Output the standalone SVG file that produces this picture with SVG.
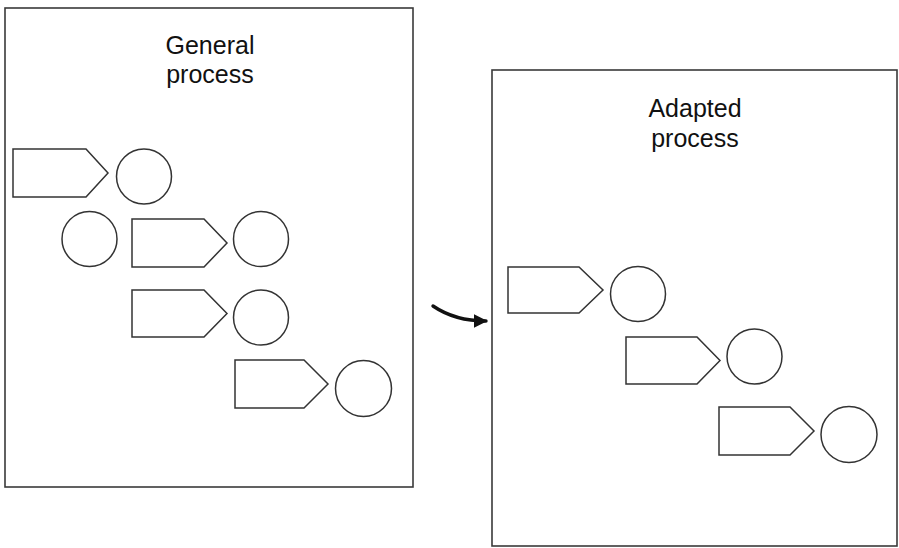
<svg xmlns="http://www.w3.org/2000/svg" width="899" height="548" viewBox="0 0 899 548">
  <style>
    .frame { fill: #fff; stroke: #3a3a3a; stroke-width: 1.6; }
    .step { fill: #fff; stroke: #333; stroke-width: 1.5; stroke-linejoin: miter; }
    .event { fill: #fff; stroke: #333; stroke-width: 1.5; }
    .title { font-family: "Liberation Sans", Arial, sans-serif; font-size: 25px; fill: #111; text-anchor: middle; }
    .conn { fill: none; stroke: #111; stroke-width: 3.4; stroke-linecap: round; }
  </style>
  <defs>
    <marker id="head" viewBox="0 0 10 10" refX="9" refY="5" markerWidth="4" markerHeight="4" orient="auto" markerUnits="strokeWidth">
      <path d="M0,0 L10,5 L0,10 z" fill="#111"/>
    </marker>
  </defs>
  <rect width="899" height="548" fill="#fff"/>

  <!-- General process -->
  <g id="general-process">
    <rect class="frame" x="5" y="8" width="408" height="479"/>
    <text class="title" x="210" y="54">General</text>
    <text class="title" x="210" y="83">process</text>
  </g>
  <g id="g-step1"><polygon class="step" points="13,149 86,149 108,173 86,197 13,197"/></g>
  <g id="g-event1"><circle class="event" cx="144" cy="176.5" r="27.5"/></g>
  <g id="g-event2"><circle class="event" cx="89.5" cy="239" r="27.5"/></g>
  <g id="g-step2"><polygon class="step" points="132,219 204,219 227,243 204,267 132,267"/></g>
  <g id="g-event3"><circle class="event" cx="261" cy="239" r="27.5"/></g>
  <g id="g-step3"><polygon class="step" points="132,290 204,290 227,313.5 204,337 132,337"/></g>
  <g id="g-event4"><circle class="event" cx="261" cy="317.5" r="27.5"/></g>
  <g id="g-step4"><polygon class="step" points="235,360 304,360 328,384 304,408 235,408"/></g>
  <g id="g-event5"><circle class="event" cx="363.5" cy="388.5" r="28"/></g>

  <!-- Adapted process -->
  <g id="adapted-process">
    <rect class="frame" x="492" y="70" width="405" height="476"/>
    <text class="title" x="695" y="117">Adapted</text>
    <text class="title" x="695" y="147">process</text>
  </g>
  <g id="a-step1"><polygon class="step" points="508,267 579,267 603,290 579,313 508,313"/></g>
  <g id="a-event1"><circle class="event" cx="638" cy="294" r="27.5"/></g>
  <g id="a-step2"><polygon class="step" points="626,337 697,337 720,360.5 697,384 626,384"/></g>
  <g id="a-event2"><circle class="event" cx="754.5" cy="356.5" r="27.5"/></g>
  <g id="a-step3"><polygon class="step" points="719,407 790,407 814,431 790,455 719,455"/></g>
  <g id="a-event3"><circle class="event" cx="849" cy="434.5" r="28"/></g>

  <!-- Connectors -->
  <g id="connectors">
    <path class="conn" d="M433,306 Q455,321 486,321" marker-end="url(#head)"/>
  </g>
</svg>
